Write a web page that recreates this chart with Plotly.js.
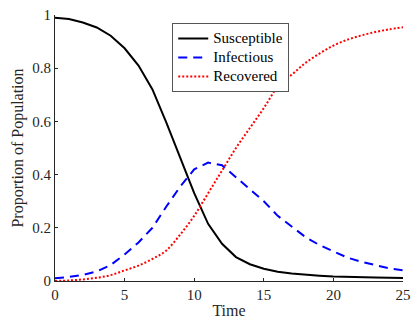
<!DOCTYPE html>
<html>
<head>
<meta charset="utf-8">
<script src="https://cdn.plot.ly/plotly-3.0.1.min.js"></script>
<style>html,body{margin:0;padding:0;background:#fff;}#chart{width:411px;height:320px;}</style>
</head>
<body>
<div id="chart"></div>
<script>
var time = [0,1,2,3,4,5,6,7,8,9,10,11,12,13,14,15,16,17,18,19,20,21,22,23,24,25];
var susceptible = [0.99,0.985,0.972,0.953,0.922,0.875,0.81,0.72,0.595,0.46,0.33,0.215,0.14,0.09,0.063,0.046,0.035,0.028,0.023,0.02,0.017,0.015,0.014,0.013,0.012,0.011];
var infectious = [0.01,0.015,0.023,0.036,0.06,0.10,0.145,0.20,0.28,0.355,0.42,0.445,0.435,0.39,0.345,0.30,0.245,0.205,0.165,0.135,0.11,0.088,0.072,0.059,0.048,0.04];
var recovered = [0,0.002,0.006,0.012,0.022,0.04,0.058,0.083,0.115,0.175,0.245,0.33,0.415,0.50,0.575,0.65,0.73,0.775,0.82,0.855,0.885,0.907,0.923,0.936,0.946,0.954];
var seriesNames = ['Susceptible','Infectious','Recovered'];

var serif = '"Liberation Serif", "DejaVu Serif", serif';
function legendName(s) { return '<span style="font-size:15px">' + s + '</span>'; }

var traces = [
  {x: time, y: susceptible, name: legendName(seriesNames[0]), mode: 'lines', line: {color: '#000000', width: 2}},
  {x: time, y: infectious, name: legendName(seriesNames[1]), mode: 'lines', line: {color: '#0000ff', width: 2, dash: '9px,6px'}},
  {x: time, y: recovered, name: legendName(seriesNames[2]), mode: 'lines', line: {color: '#ff0000', width: 2, dash: '2px,2px', shape: 'spline'}}
];

var layout = {
  width: 411, height: 320,
  margin: {l: 55, r: 8, t: 15, b: 39},
  paper_bgcolor: '#fff', plot_bgcolor: '#fff',
  font: {family: serif, size: 15, color: '#262626'},
  showlegend: true,
  legend: {x: 0.505, xanchor: 'center', y: 0.97, yanchor: 'top', bordercolor: '#555', borderwidth: 1, bgcolor: '#fff',
           font: {family: serif, size: 12, color: '#000'}, itemwidth: 30, tracegroupgap: 0},
  xaxis: {range: [0, 25], dtick: 5, tick0: 0, ticks: 'inside', ticklen: 3, tickcolor: '#262626', showgrid: false, zeroline: false,
          showline: true, linecolor: '#262626', linewidth: 1, tickfont: {family: serif, size: 15, color: '#262626'},
          title: {text: 'Time', font: {family: serif, size: 16, color: '#262626'}, standoff: 2}, automargin: false},
  yaxis: {range: [0, 1], dtick: 0.2, tick0: 0, ticks: 'inside', ticklen: 3, tickcolor: '#262626', showgrid: false, zeroline: false,
          showline: true, linecolor: '#262626', linewidth: 1, tickfont: {family: serif, size: 15, color: '#262626'},
          title: {text: 'Proportion of Population', font: {family: serif, size: 16, color: '#262626'}, standoff: 4}, automargin: false}
};
Plotly.newPlot('chart', traces, layout, {displayModeBar: false, staticPlot: true});
</script>
</body>
</html>
